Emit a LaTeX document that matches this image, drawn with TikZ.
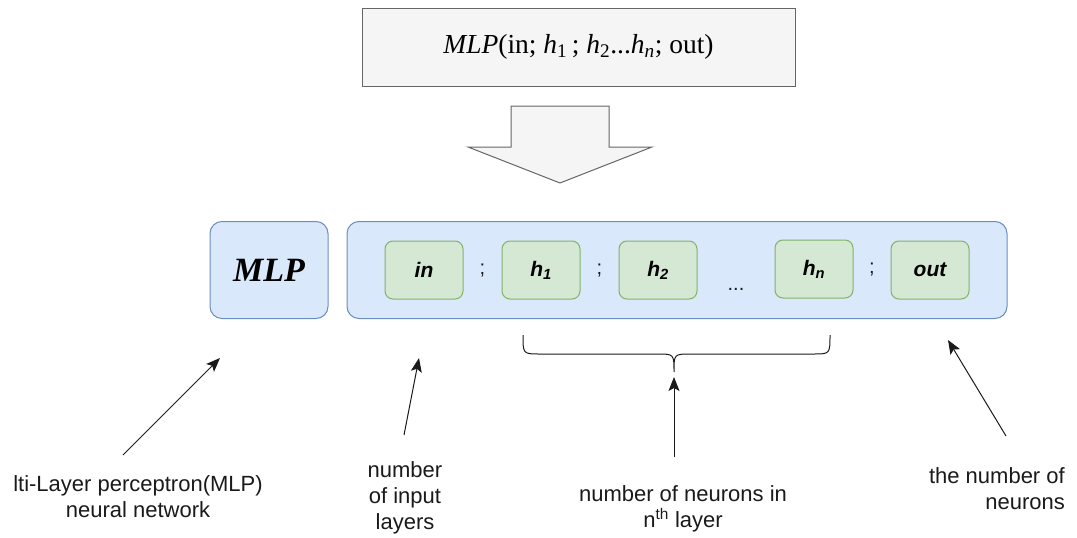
\documentclass[tikz,border=0pt]{standalone}
\usepackage{fontspec}
\setmainfont{Liberation Sans}
\newfontfamily\mlpserif{Liberation Serif}
\usepackage{xcolor}
\definecolor{MlpBlue}{HTML}{DAE8FC}
\definecolor{MlpBlueLine}{HTML}{6C8EBF}
\definecolor{MlpGreen}{HTML}{D5E8D4}
\definecolor{MlpGreenLine}{HTML}{82B366}
\definecolor{MlpGrey}{HTML}{F5F5F5}
\definecolor{MlpGreyLine}{HTML}{666666}
\definecolor{MlpInk}{HTML}{1A1A1A}
\usetikzlibrary{arrows.meta,calc,positioning}

\begin{document}
\begin{tikzpicture}[x=1pt,y=-1pt,
    formula/.style={draw=MlpGreyLine,fill=MlpGrey,minimum width=433pt,minimum height=78pt,
      inner sep=0pt,line width=1pt,font=\mlpserif\fontsize{27.5}{31}\selectfont},
    outer/.style={draw=MlpBlueLine,fill=MlpBlue,rounded corners=12pt,minimum height=97pt,
      inner sep=0pt,line width=1pt},
    layer/.style={draw=MlpGreenLine,fill=MlpGreen,rounded corners=8pt,minimum width=78pt,
      minimum height=58pt,inner sep=0pt,line width=1pt,font=\fontsize{21}{24}\selectfont\bfseries\itshape},
    sep/.style={inner sep=0pt,font=\fontsize{20}{24}\selectfont,text=MlpInk},
    note/.style={inner sep=0pt,align=center,font=\fontsize{22}{26}\selectfont,text=MlpInk},
    pointer/.style={-{Stealth[length=14pt,width=11pt,inset=3pt]},line width=1pt,draw=MlpInk},
    bigarrow/.style={draw=MlpGreyLine,fill=MlpGrey,line width=1pt,line join=miter}
  ]
  \useasboundingbox (0,0) rectangle (1077,538);

  % formula on top
  \node[formula] (formula) at (578.5,47)
    {\textit{MLP}(in; \textit{h}\textsubscript{1}\,; \textit{h}\textsubscript{2}...\textit{h}\textsubscript{\textit{n}}; out)};
  \draw[bigarrow] (511,106) -- (609,106) -- (609,147) -- (652,147) -- (560,183)
    -- (468,147) -- (511,147) -- cycle;

  % the expanded form
  \node[outer,minimum width=118pt] (mlp) at (269,270)
    {\mlpserif\fontsize{34}{38}\selectfont\bfseries\itshape MLP};
  \node[outer,minimum width=660pt,right=18pt of mlp] (body) {};
  \node[layer] (in) at (424,270) {in};
  \node[layer,right=38pt of in] (h1) {h\textsubscript{1}};
  \node[layer,right=38pt of h1] (h2) {h\textsubscript{2}};
  \node[layer,right=77pt of h2,yshift=1pt] (hn) {h\textsubscript{n}};
  \node[layer,right=37pt of hn,yshift=-1pt] (out) {out};
  \node[sep] (semi1) at ($(in.east)!.5!(h1.west)$) {;};
  \node[sep] (semi2) at ($(h1.east)!.5!(h2.west)$) {;};
  \node[sep,yshift=-20pt] (dots) at ($(h2.east)!.5!(hn.west)$) {...};
  \node[sep] (semi3) at ($(hn.east)!.5!(out.west)$) {;};

  % brace over the hidden layers
  \draw[line width=1pt,draw=MlpInk] (523,335) .. controls (523,354) .. (540,354) -- (657,354)
    .. controls (674,354) .. (674,372) .. controls (674,354) .. (691,354) -- (813,354)
    .. controls (830,354) .. (830,335);

  % explanations
  \node[note,anchor=north] (lblmlp) at (138,475) {lti-Layer perceptron(MLP)\\neural network};
  \node[note,anchor=north] (lblin) at (405,461) {number\\of input\\layers};
  \node[note,anchor=north] (lblhid) at (683,485) {number of neurons in\\n\textsuperscript{th} layer};
  \node[note,anchor=north east,align=right] (lblout) at (1065,467) {the number of\\neurons};

  \coordinate (mlptail) at (123,455);
  \coordinate (mlptip) at (220,358);
  \coordinate (intail) at (404,435);
  \coordinate (intip) at (419,358);
  \coordinate (hidtail) at (674,457);
  \coordinate (hidtip) at (674,377);
  \coordinate (outtail) at (1006,436);
  \coordinate (outtip) at (948,340);
  \draw[pointer] (mlptail) -- (mlptip);
  \draw[pointer] (intail) -- (intip);
  \draw[pointer] (hidtail) -- (hidtip);
  \draw[pointer] (outtail) -- (outtip);
\end{tikzpicture}
\end{document}
